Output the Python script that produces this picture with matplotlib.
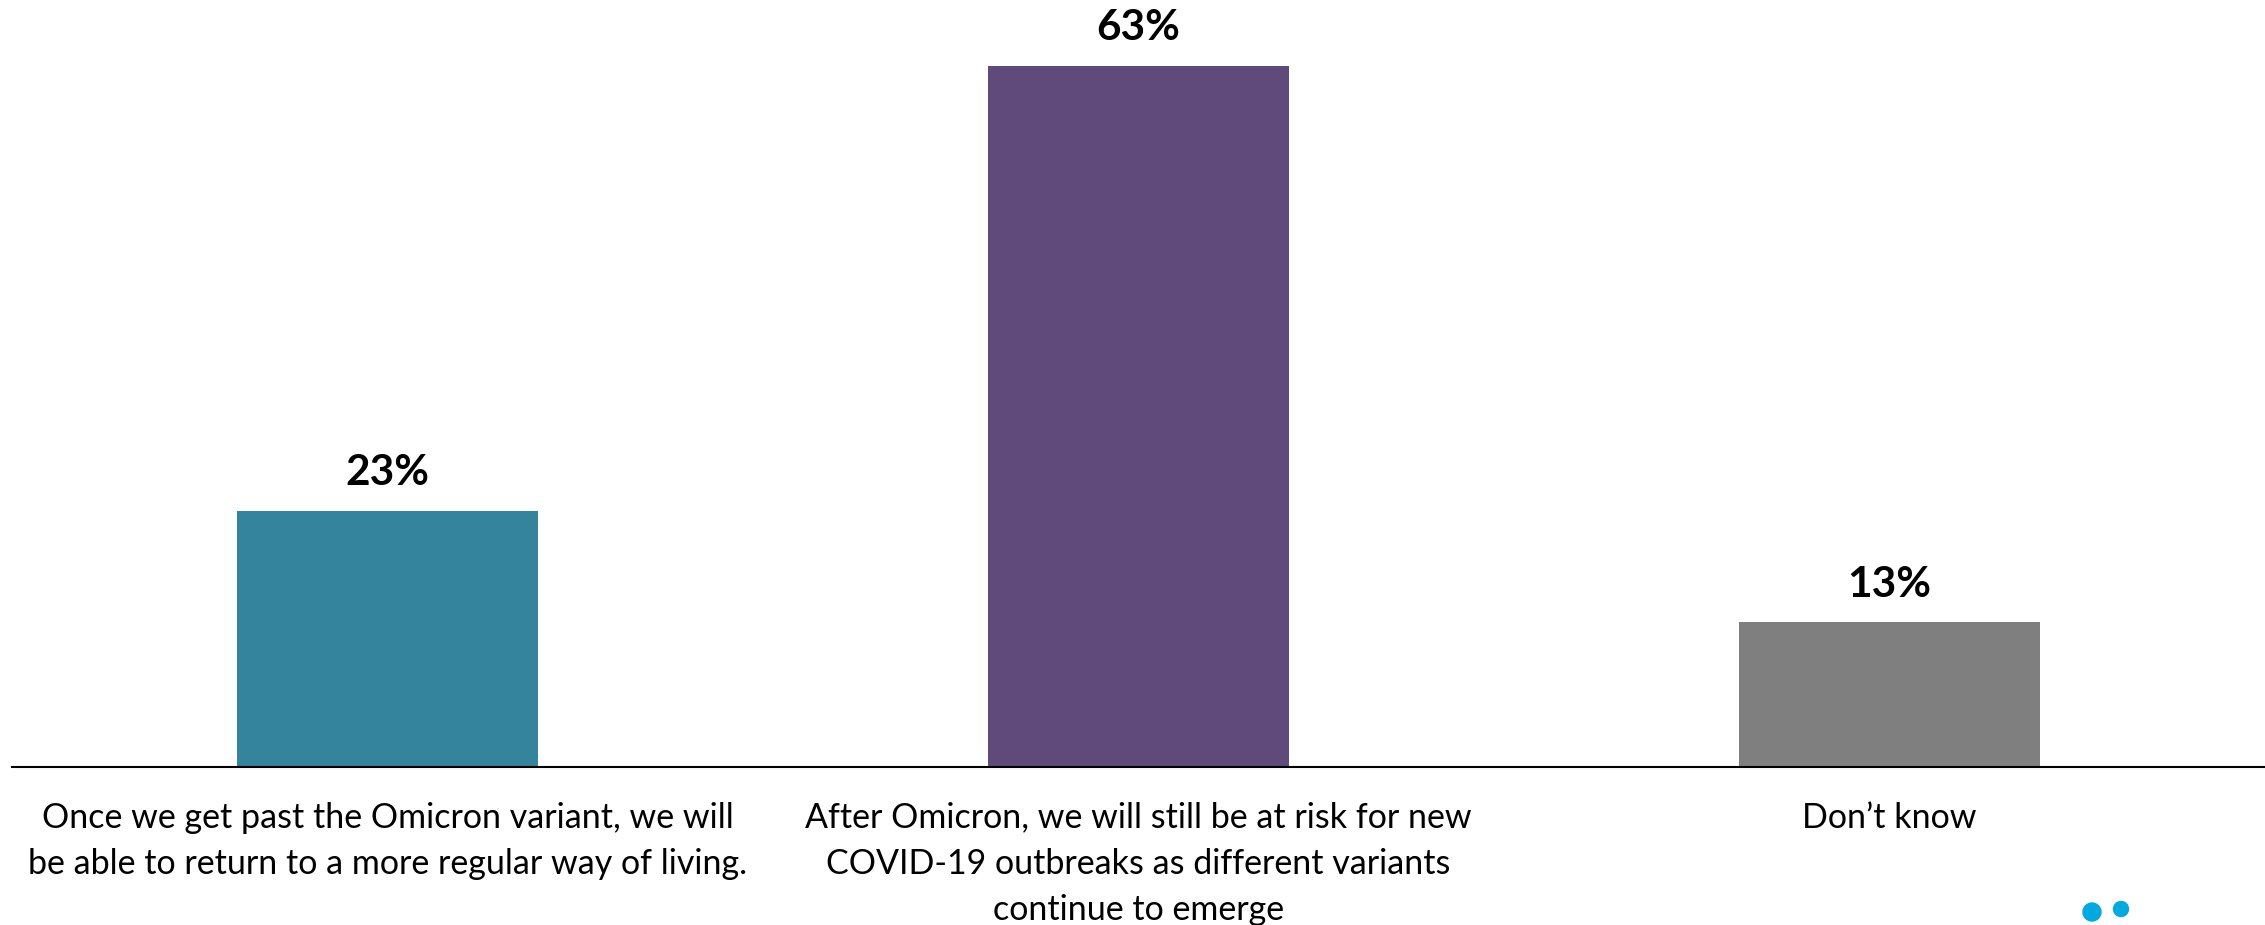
import matplotlib; matplotlib.use("Agg")
import matplotlib.pyplot as plt
from matplotlib.patches import Circle

plt.rcParams["font.family"] = ["Lato", "DejaVu Sans"]

CATEGORIES = [
    "Once we get past the Omicron variant, we will\nbe able to return to a more regular way of living.",
    "After Omicron, we will still be at risk for new\nCOVID-19 outbreaks as different variants\ncontinue to emerge",
    "Don\u2019t know",
]
VALUES = [23, 63, 13]
COLORS = ["#33849C", "#604A7B", "#7F7F7F"]

W, H = 2265, 925
fig = plt.figure(figsize=(W / 100, H / 100), dpi=100)
fig.patch.set_facecolor("white")
ax = fig.add_axes([12 / W, (H - 767) / H, (W - 12) / W, 757 / H])

x = list(range(len(VALUES)))
bars = ax.bar(x, VALUES, width=0.40, color=COLORS)
ax.set_xlim(-0.5, len(VALUES) - 0.5)
ax.set_ylim(0, 68)

for b, v in zip(bars, VALUES):
    ax.annotate(f"{v}%", (b.get_x() + b.get_width() / 2, v), xytext=(0, 27),
                textcoords="offset points", ha="center", va="center",
                fontsize=30.5, fontweight="bold", color="black")

ax.set_xticks(x)
ax.set_xticklabels(CATEGORIES, fontsize=24.5, color="black", linespacing=1.55)
ax.tick_params(axis="x", length=0, pad=25)
ax.set_yticks([])
for s in ["top", "right", "left"]:
    ax.spines[s].set_visible(False)
ax.spines["bottom"].set_color("black")
ax.spines["bottom"].set_linewidth(1.5)

# decorative logo dots, bottom right
for cx, cy, r in [(2092, 912, 9), (2121, 909, 7.5)]:
    fig.patches.append(Circle((cx, H - cy), r, transform=None, color="#00A9E0"))

fig.savefig("out.png", dpi=100, facecolor="white")
